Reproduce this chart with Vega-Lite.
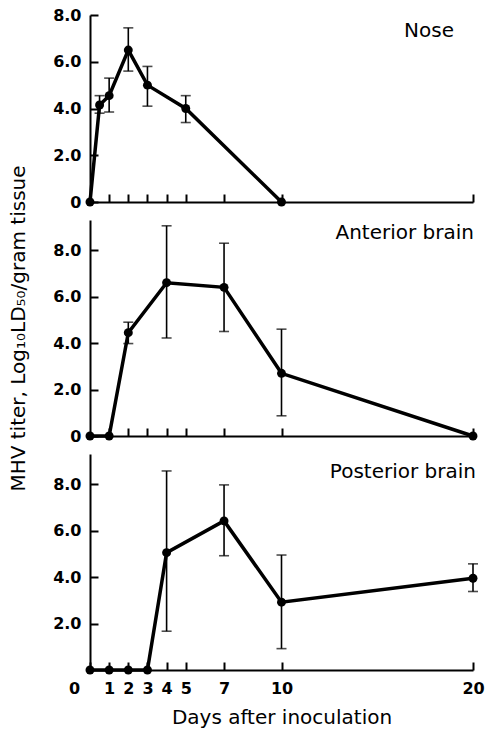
{
  "$schema": "https://vega.github.io/schema/vega-lite/v6.json",
  "background": "white",
  "padding": {"left": 8, "top": 7, "right": 5, "bottom": 5},
  "bounds": "flush",
  "spacing": 18,
  "datasets": {
    "nose": [
      {"day": 0, "titer": 0, "lo": null, "hi": null},
      {"day": 0.5, "titer": 4.15, "lo": 3.8, "hi": 4.55},
      {"day": 1, "titer": 4.55, "lo": 3.85, "hi": 5.3},
      {"day": 2, "titer": 6.5, "lo": 5.6, "hi": 7.45},
      {"day": 3, "titer": 5.0, "lo": 4.1, "hi": 5.8},
      {"day": 5, "titer": 4.0, "lo": 3.4, "hi": 4.55},
      {"day": 10, "titer": 0, "lo": null, "hi": null}
    ],
    "anterior": [
      {"day": 0, "titer": 0, "lo": null, "hi": null},
      {"day": 1, "titer": 0, "lo": null, "hi": null},
      {"day": 2, "titer": 4.45, "lo": 3.98, "hi": 4.9},
      {"day": 4, "titer": 6.6, "lo": 4.22, "hi": 9.05},
      {"day": 7, "titer": 6.4, "lo": 4.5, "hi": 8.3},
      {"day": 10, "titer": 2.7, "lo": 0.87, "hi": 4.6},
      {"day": 20, "titer": 0, "lo": null, "hi": null}
    ],
    "posterior": [
      {"day": 0, "titer": 0, "lo": null, "hi": null},
      {"day": 1, "titer": 0, "lo": null, "hi": null},
      {"day": 2, "titer": 0, "lo": null, "hi": null},
      {"day": 3, "titer": 0, "lo": null, "hi": null},
      {"day": 4, "titer": 5.05, "lo": 1.67, "hi": 8.57},
      {"day": 7, "titer": 6.42, "lo": 4.92, "hi": 7.97},
      {"day": 10, "titer": 2.92, "lo": 0.92, "hi": 4.95},
      {"day": 20, "titer": 3.95, "lo": 3.38, "hi": 4.57}
    ]
  },
  "vconcat": [
    {
      "width": 383, "height": 187,
      "data": {"name": "nose"},
      "encoding": {"x": {"field": "day", "type": "quantitative", "scale": {"domain": [0, 20], "nice": false}, "axis": {"title": null, "labels": false, "values": [1, 2, 3, 4, 5, 7, 10, 20]}}},
      "layer": [
        {"transform": [{"filter": "isValid(datum.lo)"}],
         "mark": {"type": "errorbar", "ticks": {"size": 10}, "thickness": 1.6, "color": "black"},
         "encoding": {"y": {"field": "lo", "type": "quantitative", "scale": {"domain": [0, 8], "nice": false}, "axis": {"title": null, "values": [0, 2, 4, 6, 8], "labelExpr": "datum.value == 0 ? '0' : format(datum.value, '.1f')"}}, "y2": {"field": "hi"}}},
        {"mark": {"type": "line", "color": "black", "strokeWidth": 3.5},
         "encoding": {"y": {"field": "titer", "type": "quantitative", "scale": {"domain": [0, 8], "nice": false}, "axis": {"title": null, "values": [0, 2, 4, 6, 8], "labelExpr": "datum.value == 0 ? '0' : format(datum.value, '.1f')"}}}},
        {"mark": {"type": "point", "filled": true, "size": 80, "color": "black", "opacity": 1},
         "encoding": {"y": {"field": "titer", "type": "quantitative", "scale": {"domain": [0, 8], "nice": false}, "axis": {"title": null, "values": [0, 2, 4, 6, 8], "labelExpr": "datum.value == 0 ? '0' : format(datum.value, '.1f')"}}}},
        {"transform": [{"filter": "datum.day == 0"}],
         "mark": {"type": "text", "align": "right", "baseline": "top", "dx": -19, "dy": 6, "fontSize": 20, "font": "DejaVu Sans", "color": "black"},
         "encoding": {"x": {"datum": 20, "type": "quantitative"}, "y": {"datum": 8, "type": "quantitative"}, "text": {"value": "Nose"}}}
      ]
    },
    {
      "width": 383, "height": 216,
      "data": {"name": "anterior"},
      "encoding": {"x": {"field": "day", "type": "quantitative", "scale": {"domain": [0, 20], "nice": false}, "axis": {"title": null, "labels": false, "values": [1, 2, 3, 4, 5, 7, 10, 20]}}},
      "layer": [
        {"transform": [{"filter": "isValid(datum.lo)"}],
         "mark": {"type": "errorbar", "ticks": {"size": 10}, "thickness": 1.6, "color": "black"},
         "encoding": {"y": {"field": "lo", "type": "quantitative", "scale": {"domain": [0, 9.3], "nice": false}, "axis": {"title": "MHV titer, Log₁₀LD₅₀/gram tissue", "values": [0, 2, 4, 6, 8], "labelExpr": "datum.value == 0 ? '0' : format(datum.value, '.1f')"}}, "y2": {"field": "hi"}}},
        {"mark": {"type": "line", "color": "black", "strokeWidth": 3.5},
         "encoding": {"y": {"field": "titer", "type": "quantitative", "scale": {"domain": [0, 9.3], "nice": false}, "axis": {"title": "MHV titer, Log₁₀LD₅₀/gram tissue", "values": [0, 2, 4, 6, 8], "labelExpr": "datum.value == 0 ? '0' : format(datum.value, '.1f')"}}}},
        {"mark": {"type": "point", "filled": true, "size": 80, "color": "black", "opacity": 1},
         "encoding": {"y": {"field": "titer", "type": "quantitative", "scale": {"domain": [0, 9.3], "nice": false}, "axis": {"title": "MHV titer, Log₁₀LD₅₀/gram tissue", "values": [0, 2, 4, 6, 8], "labelExpr": "datum.value == 0 ? '0' : format(datum.value, '.1f')"}}}},
        {"transform": [{"filter": "datum.day == 0"}],
         "mark": {"type": "text", "align": "right", "baseline": "top", "dx": 1, "dy": 3, "fontSize": 20, "font": "DejaVu Sans", "color": "black"},
         "encoding": {"x": {"datum": 20, "type": "quantitative"}, "y": {"datum": 9.3, "type": "quantitative"}, "text": {"value": "Anterior brain"}}}
      ]
    },
    {
      "width": 383, "height": 216,
      "data": {"name": "posterior"},
      "encoding": {"x": {"field": "day", "type": "quantitative", "scale": {"domain": [0, 20], "nice": false}, "axis": {"title": "Days after inoculation", "labelFlush": false, "values": [0, 1, 2, 3, 4, 5, 7, 10, 20], "labelOffset": {"condition": {"test": "datum.value == 0", "value": -16}, "value": 0}}}},
      "layer": [
        {"transform": [{"filter": "isValid(datum.lo)"}],
         "mark": {"type": "errorbar", "ticks": {"size": 10}, "thickness": 1.6, "color": "black"},
         "encoding": {"y": {"field": "lo", "type": "quantitative", "scale": {"domain": [0, 9.3], "nice": false}, "axis": {"title": null, "values": [2, 4, 6, 8], "format": ".1f"}}, "y2": {"field": "hi"}}},
        {"mark": {"type": "line", "color": "black", "strokeWidth": 3.5},
         "encoding": {"y": {"field": "titer", "type": "quantitative", "scale": {"domain": [0, 9.3], "nice": false}, "axis": {"title": null, "values": [2, 4, 6, 8], "format": ".1f"}}}},
        {"mark": {"type": "point", "filled": true, "size": 80, "color": "black", "opacity": 1},
         "encoding": {"y": {"field": "titer", "type": "quantitative", "scale": {"domain": [0, 9.3], "nice": false}, "axis": {"title": null, "values": [2, 4, 6, 8], "format": ".1f"}}}},
        {"transform": [{"filter": "datum.day == 0"}],
         "mark": {"type": "text", "align": "right", "baseline": "top", "dx": 3, "dy": 8, "fontSize": 20, "font": "DejaVu Sans", "color": "black"},
         "encoding": {"x": {"datum": 20, "type": "quantitative"}, "y": {"datum": 9.3, "type": "quantitative"}, "text": {"value": "Posterior brain"}}}
      ]
    }
  ],
  "config": {
    "view": {"stroke": null},
    "font": "DejaVu Sans",
    "axis": {
      "grid": false,
      "domainColor": "black", "domainWidth": 2,
      "tickColor": "black", "tickWidth": 2, "tickSize": -8,
      "labelFont": "DejaVu Sans", "labelFontSize": 16, "labelFontWeight": "bold", "labelColor": "black",
      "labelPadding": 17,
      "titleFont": "DejaVu Sans", "titleFontSize": 20, "titleFontWeight": "normal", "titleColor": "black"
    },
    "axisX": {"labelPadding": 18, "titlePadding": 11},
    "axisY": {"titlePadding": 24}
  }
}
